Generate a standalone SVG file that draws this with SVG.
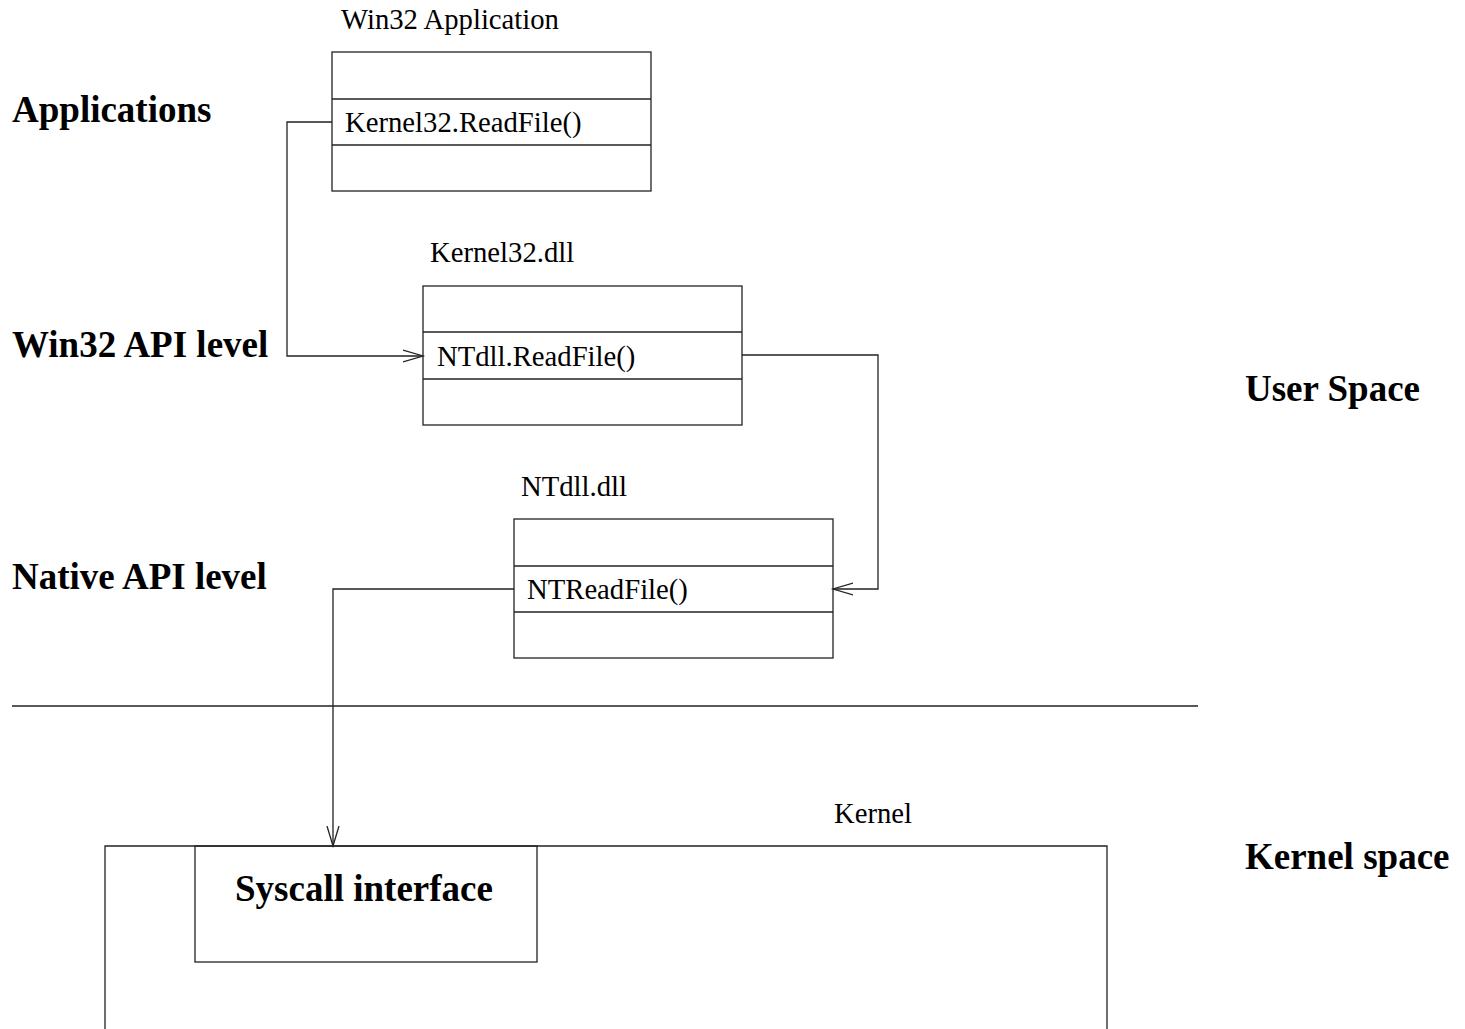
<svg xmlns="http://www.w3.org/2000/svg" width="1465" height="1029" viewBox="0 0 1465 1029">
<style>
.box{fill:none;stroke:#222;stroke-width:1.3}
.ln{fill:none;stroke:#222;stroke-width:1.3}
.t{font-family:"Liberation Serif","Times New Roman",serif;font-size:28.7px;fill:#000}
.b{font-family:"Liberation Serif","Times New Roman",serif;font-size:37px;font-weight:bold;fill:#000}
</style>
<defs>
<marker id="arr" markerUnits="userSpaceOnUse" markerWidth="24" markerHeight="16" refX="20" refY="7" orient="auto" viewBox="0 0 24 16">
<path d="M0,1 L20,7 L0,13" fill="none" stroke="#222" stroke-width="1.3"/>
</marker>
</defs>
<rect width="1465" height="1029" fill="#fff"/>
<g id="side-labels">
<text class="b" x="12" y="122">Applications</text>
<text class="b" x="12" y="357">Win32 API level</text>
<text class="b" x="12" y="589">Native API level</text>
<text class="b" x="1245" y="401">User Space</text>
<text class="b" x="1245" y="869">Kernel space</text>
</g>
<g id="win32-app">
<text class="t" x="341" y="29">Win32 Application</text>
<rect class="box" x="332" y="52" width="319" height="139"/>
<line class="ln" x1="332" y1="99" x2="651" y2="99"/>
<line class="ln" x1="332" y1="145" x2="651" y2="145"/>
<text class="t" x="345" y="132">Kernel32.ReadFile()</text>
</g>
<g id="kernel32-dll">
<text class="t" x="430" y="262">Kernel32.dll</text>
<rect class="box" x="423" y="286" width="319" height="139"/>
<line class="ln" x1="423" y1="332" x2="742" y2="332"/>
<line class="ln" x1="423" y1="379" x2="742" y2="379"/>
<text class="t" x="437" y="366">NTdll.ReadFile()</text>
</g>
<g id="ntdll-dll">
<text class="t" x="521" y="496">NTdll.dll</text>
<rect class="box" x="514" y="519" width="319" height="139"/>
<line class="ln" x1="514" y1="566" x2="833" y2="566"/>
<line class="ln" x1="514" y1="612" x2="833" y2="612"/>
<text class="t" x="527" y="599">NTReadFile()</text>
</g>
<g id="divider">
<line class="ln" x1="12" y1="706" x2="1198" y2="706"/>
</g>
<g id="kernel">
<text class="t" x="834" y="823">Kernel</text>
<path class="ln" d="M105,1029 V846 H1107 V1029"/>
</g>
<g id="syscall-interface">
<rect class="box" x="195" y="846" width="342" height="116"/>
<text class="b" x="364" y="901" text-anchor="middle">Syscall interface</text>
</g>
<g id="connectors">
<path class="ln" d="M332,122 H287 V356 H423" marker-end="url(#arr)"/>
<path class="ln" d="M742,355 H878 V589 H833" marker-end="url(#arr)"/>
<path class="ln" d="M514,589 H333 V846" marker-end="url(#arr)"/>
</g>
</svg>
